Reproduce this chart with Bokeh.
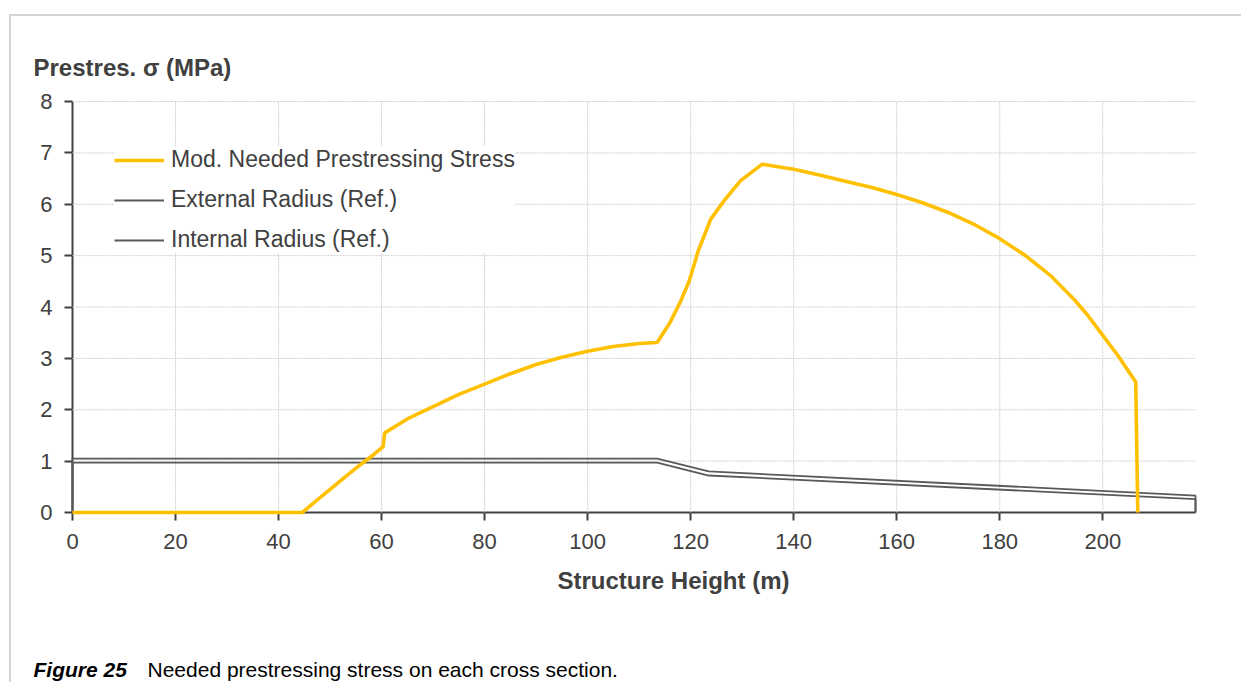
from bokeh.plotting import figure
from bokeh.models import (Legend, LegendItem, FixedTicker, Range1d, Label, LinearAxis)
from bokeh.embed import file_html
from bokeh.resources import INLINE

# ---------------- data ----------------
height_m = [0, 44.6, 47, 50, 53, 56, 58.5, 60.3, 60.6, 65, 70, 75, 80, 85, 90, 95, 100,
            105, 110, 113.5, 116, 118, 119.7, 121.5, 123.9, 126.5, 129.7, 133.9, 140, 145,
            150, 155, 160, 165, 170, 175, 180, 185, 190, 194.4, 197, 199.6, 202.9, 206.4, 206.8]
stress_mpa = [0, 0, 0.2, 0.45, 0.7, 0.94, 1.13, 1.28, 1.55, 1.82, 2.06, 2.3, 2.5, 2.7, 2.88,
              3.02, 3.14, 3.23, 3.29, 3.31, 3.7, 4.1, 4.5, 5.1, 5.71, 6.07, 6.46, 6.78, 6.68,
              6.57, 6.45, 6.33, 6.19, 6.03, 5.84, 5.61, 5.33, 5.0, 4.6, 4.15, 3.85, 3.5, 3.06,
              2.54, 0]

ext_x = [0, 0, 113.5, 123.5, 218, 218]
ext_y = [0, 1.05, 1.05, 0.80, 0.33, 0]
int_x = [0, 0, 113.5, 123.5, 218, 218]
int_y = [0, 0.97, 0.97, 0.72, 0.26, 0]

x_ticks = [0, 20, 40, 60, 80, 100, 120, 140, 160, 180, 200]
y_ticks = [0, 1, 2, 3, 4, 5, 6, 7, 8]
x_limits = (0, 218)
y_limits = (0, 8)

series_names = ["Mod. Needed Prestressing Stress", "External Radius (Ref.)", "Internal Radius (Ref.)"]
y_title = "Prestres. \u03c3 (MPa)"
x_title = "Structure Height (m)"
caption_bold = "Figure 25"
caption_text = "Needed prestressing stress on each cross section."

FONT = "Liberation Sans"
TXT = "#404040"
W, H = 1241, 682
# plot area in pixels (left, right, top, bottom)
FL, FR, FT, FB = 72, 1195, 101, 512
kx = (FR - FL) / (x_limits[1] - x_limits[0])
ky = (FB - FT) / (y_limits[1] - y_limits[0])
x_range = Range1d(x_limits[0] - FL / kx, x_limits[1] + (W - FR) / kx)
y_range = Range1d(y_limits[0] - (H - FB) / ky, y_limits[1] + FT / ky)

p = figure(width=W, height=H, output_backend="svg", toolbar_location=None,
           x_range=x_range, y_range=y_range, x_axis_location=None, y_axis_location=None,
           min_border=0)
p.title.visible = False
p.outline_line_color = None
p.background_fill_color = None
p.border_fill_color = None
p.xgrid.visible = False
p.ygrid.visible = False
p.styles = {
    "background-color": "white",
    "background-image": "linear-gradient(#d4d4d4, #d4d4d4), linear-gradient(#d4d4d4, #d4d4d4)",
    "background-size": "100% 2px, 2px 100%",
    "background-position": "10px 14px, 9px 14px",
    "background-repeat": "no-repeat",
}

# ---- grid lines, limited to the plot area ----
p.segment(x0=x_ticks[1:], y0=y_limits[0], x1=x_ticks[1:], y1=y_limits[1],
          line_color="#cfcfcf", line_dash="2 1", line_width=1)
p.segment(x0=x_limits[0], y0=y_ticks[1:], x1=x_limits[1], y1=y_ticks[1:],
          line_color="#cfcfcf", line_dash="2 1", line_width=1)

# ---- axes at fixed locations ----
def style_axis(ax, standoff):
    ax.axis_line_color = TXT
    ax.axis_line_width = 2
    ax.major_tick_line_color = TXT
    ax.major_tick_line_width = 2
    ax.major_tick_out = 8
    ax.major_tick_in = 0
    ax.minor_tick_line_color = None
    ax.major_label_text_font = FONT
    ax.major_label_text_font_size = "22px"
    ax.major_label_text_color = TXT
    ax.major_label_standoff = standoff
    ax.level = "underlay"

xaxis = LinearAxis(fixed_location=y_limits[0], bounds=x_limits, ticker=FixedTicker(ticks=x_ticks))
style_axis(xaxis, 13)
p.add_layout(xaxis, "below")
yaxis = LinearAxis(fixed_location=x_limits[0], bounds=y_limits, ticker=FixedTicker(ticks=y_ticks))
style_axis(yaxis, 12)
p.add_layout(yaxis, "left")

# ---- series ----
r_ext = p.line(ext_x, ext_y, line_color="#595959", line_width=1.8)
r_int = p.line(int_x, int_y, line_color="#595959", line_width=1.8)
r_str = p.line(height_m, stress_mpa, line_color="#FFC000", line_width=3.6)

legend = Legend(items=[LegendItem(label=series_names[0], renderers=[r_str]),
                       LegendItem(label=series_names[1], renderers=[r_ext]),
                       LegendItem(label=series_names[2], renderers=[r_int])],
                location=(114, 429))
legend.label_text_font = FONT
legend.label_text_font_size = "23px"
legend.label_text_color = TXT
legend.glyph_width = 50
legend.glyph_height = 26
legend.label_height = 26
legend.spacing = 13
legend.label_standoff = 7
legend.padding = 10
legend.margin = 0
legend.border_line_color = None
legend.background_fill_color = "white"
legend.background_fill_alpha = 1.0
p.add_layout(legend, "center")

# ---- texts (screen units: from the bottom-left corner of the page) ----
def add_text(txt, x, y_top, size, style="normal", align="left", color=TXT):
    p.add_layout(Label(x=x, y=H - y_top, x_units="screen", y_units="screen", text=txt,
                       text_font=FONT, text_font_size=size, text_font_style=style,
                       text_color=color, text_baseline="middle", text_align=align))

add_text(y_title, 33, 67, "24px", "bold")
add_text(x_title, 673, 580, "24px", "bold", "center")
add_text(caption_bold, 33, 669, "21px", "bold italic", color="#000000")
add_text(caption_text, 147, 669, "21px", "normal", color="#000000")

open("out.html", "w").write(file_html(p, INLINE))
